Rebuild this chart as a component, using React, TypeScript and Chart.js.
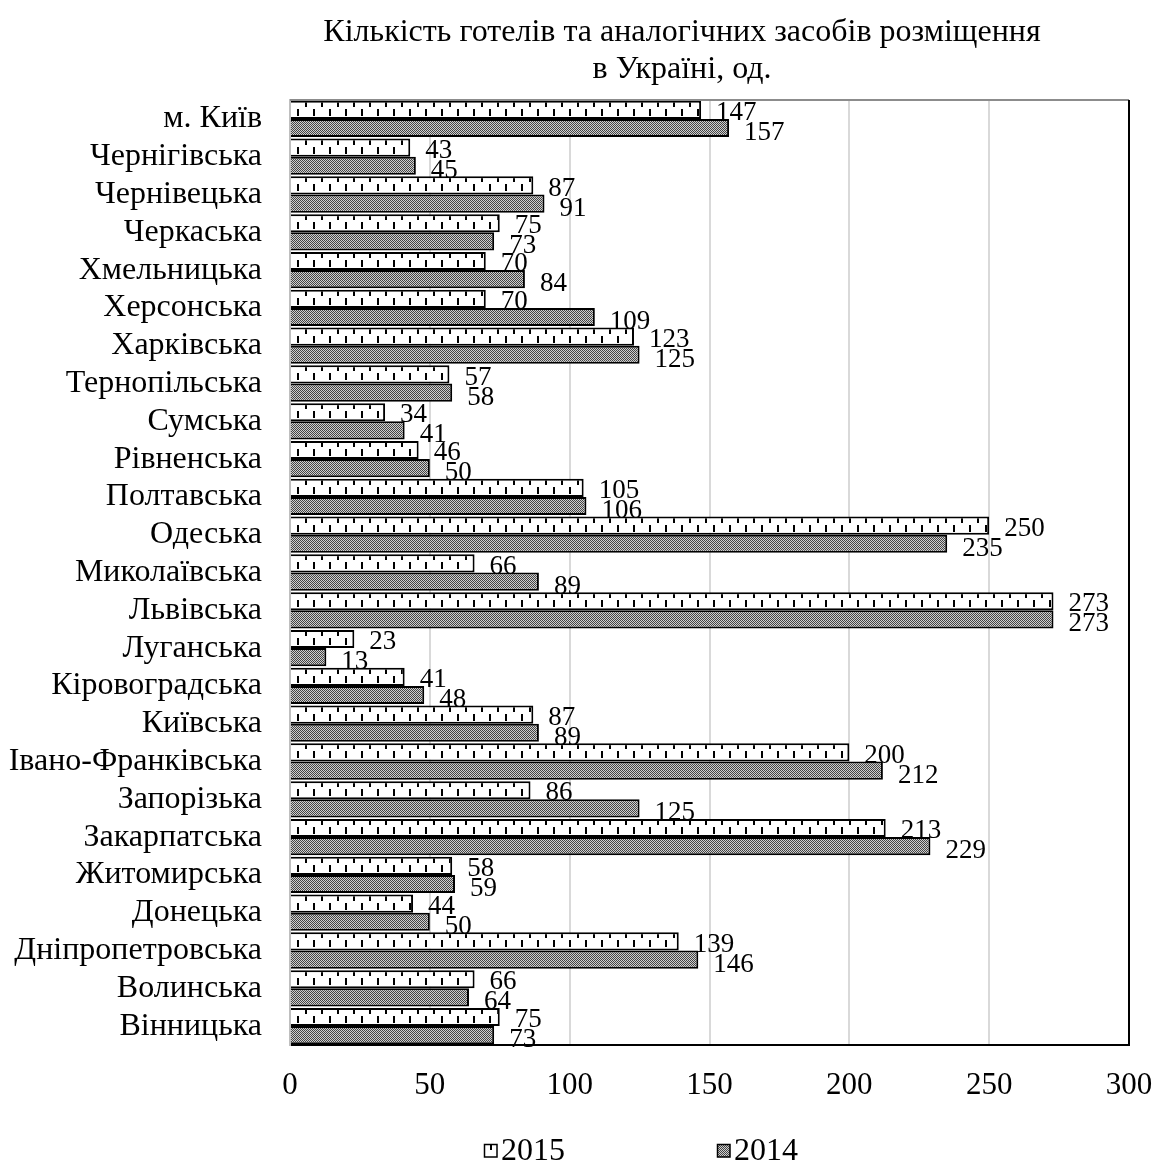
import { useEffect, useRef } from "react";
import { Chart, registerables } from "chart.js";

Chart.register(...registerables);

const regions = [
  "м. Київ",
  "Чернігівська",
  "Чернівецька",
  "Черкаська",
  "Хмельницька",
  "Херсонська",
  "Харківська",
  "Тернопільська",
  "Сумська",
  "Рівненська",
  "Полтавська",
  "Одеська",
  "Миколаївська",
  "Львівська",
  "Луганська",
  "Кіровоградська",
  "Київська",
  "Івано-Франківська",
  "Запорізька",
  "Закарпатська",
  "Житомирська",
  "Донецька",
  "Дніпропетровська",
  "Волинська",
  "Вінницька",
];

const hotels2015 = [147, 43, 87, 75, 70, 70, 123, 57, 34, 46, 105, 250, 66, 273, 23, 41, 87, 200, 86, 213, 58, 44, 139, 66, 75];
const hotels2014 = [157, 45, 91, 73, 84, 109, 125, 58, 41, 50, 106, 235, 89, 273, 13, 48, 89, 212, 125, 229, 59, 50, 146, 64, 73];

const seriesNames = ["2015", "2014"];
const titleLines = ["Кількість готелів та аналогічних засобів розміщення", "в Україні, од."];
const axisMax = 300;
const axisStep = 50;

const FONT = "'Liberation Serif', 'Times New Roman', serif";
const W = 1161;
const H = 1163;
const CAT_PCT = 0.96;

// Tile for the 2015 series: white with short vertical dashes
function makeDashTile(): HTMLCanvasElement {
  const c = document.createElement("canvas");
  c.width = 16;
  c.height = 40;
  const g = c.getContext("2d")!;
  g.fillStyle = "#ffffff";
  g.fillRect(0, 0, 16, 40);
  g.fillStyle = "#000000";
  g.fillRect(1, 0, 2, 6);
  g.fillRect(9, 8, 2, 7);
  return c;
}

// Tile for the 2014 series: fine dark/light checker that reads as grey
function makeCheckTile(): HTMLCanvasElement {
  const c = document.createElement("canvas");
  c.width = 2;
  c.height = 2;
  const g = c.getContext("2d")!;
  g.fillStyle = "#cfcfcf";
  g.fillRect(0, 0, 2, 2);
  g.fillStyle = "#444444";
  g.fillRect(0, 0, 1, 1);
  g.fillRect(1, 1, 1, 1);
  return c;
}

export default function App() {
  const canvasRef = useRef<HTMLCanvasElement | null>(null);

  useEffect(() => {
    const canvas = canvasRef.current;
    if (!canvas) return;
    const ctx2d = canvas.getContext("2d")!;
    const dashTile = makeDashTile();
    const checkTile = makeCheckTile();
    const checkPattern = ctx2d.createPattern(checkTile, "repeat")!;

    const dashFill = (c: any) => {
      const chart = c.chart;
      const ys = chart.scales?.y;
      const p = ctx2d.createPattern(dashTile, "repeat")!;
      if (ys && typeof c.dataIndex === "number") {
        const center = ys.getPixelForValue(c.dataIndex);
        const pitch = (ys.bottom - ys.top) / regions.length;
        const top = center - (pitch * CAT_PCT) / 2;
        p.setTransform(new DOMMatrix([1, 0, 0, 1, 0, Math.round(top)]));
      }
      return p;
    };

    const frame = {
      id: "frame",
      afterDraw(chart: any) {
        const { ctx, chartArea: a } = chart;
        ctx.save();
        ctx.lineWidth = 2;
        ctx.strokeStyle = "#8c8c8c";
        ctx.beginPath();
        ctx.moveTo(a.left, a.top);
        ctx.lineTo(a.right, a.top);
        ctx.stroke();
        ctx.strokeStyle = "#000000";
        ctx.beginPath();
        ctx.moveTo(a.right, a.top);
        ctx.lineTo(a.right, a.bottom);
        ctx.stroke();
        ctx.restore();
      },
    };

    const valueLabels = {
      id: "valueLabels",
      afterDatasetsDraw(chart: any) {
        const { ctx } = chart;
        const m0 = chart.getDatasetMeta(0).data;
        const m1 = chart.getDatasetMeta(1).data;
        ctx.save();
        ctx.font = `27px ${FONT}`;
        ctx.fillStyle = "#000";
        ctx.textBaseline = "middle";
        ctx.textAlign = "left";
        const gap = 15;
        const textH = 18;
        for (let i = 0; i < regions.length; i++) {
          const a = m0[i];
          const b = m1[i];
          const t0 = String(hotels2015[i]);
          const t1 = String(hotels2014[i]);
          const w0 = ctx.measureText(t0).width;
          const w1 = ctx.measureText(t1).width;
          const x0 = a.x + gap;
          const y0 = a.y + 3;
          let x1 = b.x + gap;
          const y1 = b.y + 5;
          const overlapX = x1 < x0 + w0 && x1 + w1 > x0;
          const overlapY = Math.abs(y1 - y0) < textH + 1;
          if (overlapX && overlapY) x1 = x0 + w0;
          ctx.fillText(t0, x0, y0);
          ctx.fillText(t1, x1, y1);
        }
        ctx.restore();
      },
    };

    const titleAndLegend = {
      id: "titleAndLegend",
      afterDraw(chart: any) {
        const { ctx } = chart;
        ctx.save();
        ctx.fillStyle = "#000";
        ctx.font = `32px ${FONT}`;
        ctx.textAlign = "center";
        ctx.textBaseline = "middle";
        ctx.fillText(titleLines[0], 682, 33);
        ctx.fillText(titleLines[1], 682, 70);

        // legend
        ctx.font = `32px ${FONT}`;
        ctx.textAlign = "left";
        const ly = 1152;
        const items = [
          { x: 484, fill: "dash" },
          { x: 717, fill: "check" },
        ];
        items.forEach((it, k) => {
          const bx = it.x;
          const by = ly - 8;
          if (it.fill === "check") {
            ctx.fillStyle = checkPattern;
            ctx.fillRect(bx, by, 13, 13);
          } else {
            ctx.fillStyle = "#fff";
            ctx.fillRect(bx, by, 13, 13);
            ctx.fillStyle = "#000";
            ctx.fillRect(bx + 6, by + 1, 2, 5);
          }
          ctx.strokeStyle = "#000";
          ctx.lineWidth = 1.5;
          ctx.strokeRect(bx + 0.5, by + 0.5, 12.5, 12.5);
          ctx.fillStyle = "#000";
          ctx.fillText(seriesNames[k], bx + 17, ly);
        });
        ctx.restore();
      },
    };

    const chart = new Chart(canvas, {
      type: "bar",
      data: {
        labels: regions,
        datasets: [
          {
            label: seriesNames[0],
            data: hotels2015,
            backgroundColor: dashFill,
            borderColor: "#000",
            borderWidth: 2,
            borderSkipped: "start",
            categoryPercentage: CAT_PCT,
            barPercentage: 1,
          },
          {
            label: seriesNames[1],
            data: hotels2014,
            backgroundColor: checkPattern,
            borderColor: "#000",
            borderWidth: 2,
            borderSkipped: "start",
            categoryPercentage: CAT_PCT,
            barPercentage: 1,
          },
        ],
      },
      options: {
        indexAxis: "y",
        responsive: false,
        animation: false,
        layout: { padding: { top: 100, right: 32, left: 0, bottom: 0 } },
        plugins: {
          legend: { display: false },
          title: { display: false },
          tooltip: { enabled: false },
        },
        scales: {
          x: {
            min: 0,
            max: axisMax,
            ticks: {
              stepSize: axisStep,
              color: "#000",
              font: { family: FONT, size: 31 },
              padding: 22,
              maxRotation: 0,
            },
            grid: {
              drawTicks: false,
              lineWidth: 2,
              color: (c: any) =>
                c.tick && (c.tick.value === 0 || c.tick.value === axisMax) ? "rgba(0,0,0,0)" : "#d9d9d9",
            },
            border: { display: true, color: "#000", width: 2 },
            afterFit(scale: any) {
              scale.height = H - 1045;
              scale.paddingLeft = 0;
              scale.paddingRight = 0;
            },
          },
          y: {
            ticks: {
              color: "#000",
              font: { family: FONT, size: 32 },
              padding: 28,
              autoSkip: false,
            },
            grid: { display: false, drawTicks: false },
            border: { display: true, color: "#bfbfbf", width: 2 },
            afterFit(scale: any) {
              scale.width = 290;
              scale.paddingTop = 0;
              scale.paddingBottom = 0;
            },
          },
        },
      },
      plugins: [frame, valueLabels, titleAndLegend],
    });

    return () => chart.destroy();
  }, []);

  return (
    <div style={{ position: "fixed", left: 0, top: 0, width: W, height: H, background: "#fff" }}>
      <canvas ref={canvasRef} width={W} height={H} style={{ display: "block", width: W, height: H }} />
    </div>
  );
}
